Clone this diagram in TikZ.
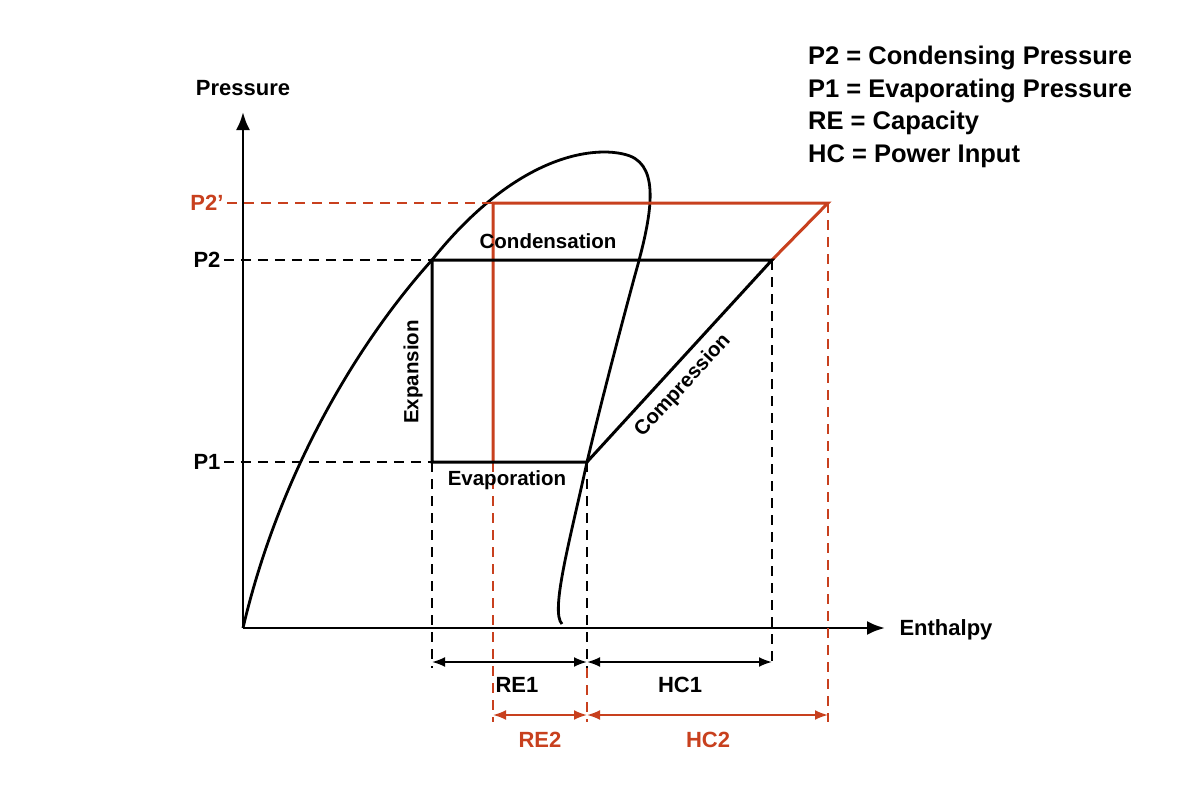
\documentclass[tikz,border=0pt]{standalone}
\usepackage{fontspec}
\setmainfont{Liberation Sans}
\usetikzlibrary{arrows.meta}
\definecolor{rd}{HTML}{C8401E}
\begin{document}
\begin{tikzpicture}[x=1pt,y=-1pt,
  lbl/.style={font=\fontsize{22}{26}\selectfont\bfseries},
  slbl/.style={font=\fontsize{20.5}{24}\selectfont\bfseries},
  cyc/.style={line width=3pt},
  dsh/.style={dashed,dash pattern=on 10pt off 7pt,line width=1.8pt},
  dim/.style={line width=2pt,{Latex[length=13pt,width=10pt]}-{Latex[length=13pt,width=10pt]}}]
\useasboundingbox (0,0) rectangle (1200,800);
% axes
\coordinate (O) at (243,628);
\coordinate (ytop) at (243,112);
\coordinate (xend) at (885,628);
\draw[line width=2.8pt,-{Latex[length=18pt,width=14pt]}] (O) -- (ytop);
\draw[line width=2.8pt,-{Latex[length=18pt,width=14pt]}] (O) -- (xend);
\node[lbl] (ylab) at (243,88) {Pressure};
\node[lbl,anchor=west] (xlab) at (896,630) {Enthalpy};
% points
\coordinate (A) at (432,260); \coordinate (B) at (772,260);
\coordinate (C) at (432,462); \coordinate (D) at (587,462);
\coordinate (E) at (493,203); \coordinate (F) at (828,203);
\coordinate (G) at (493,462);
% dome
\draw[line width=2.8pt] (O) .. controls (280,470) and (360,340) .. (A)
  .. controls (520,150) and (600,145) .. (630,156)
  .. controls (660,168) and (652,215) .. (635,275)
  .. controls (612,360) and (597,420) .. (D)
  .. controls (570,540) and (550,612) .. (562,624);
% dashed guides
\node[lbl,text=rd] (p2p) at (207,203) {P2’};
\node[lbl] (p2) at (207,260) {P2};
\node[lbl] (p1) at (207,462) {P1};
\draw[dsh,rd] (p2p.east) -- (F);
\draw[dsh] (p2.east) -- (A);
\draw[dsh] (p1.east) -- (C);
\coordinate (c1) at (432,668); \coordinate (d1) at (587,668); \coordinate (b1) at (772,668);
\coordinate (e1) at (493,722); \coordinate (f1) at (828,722); \coordinate (d2) at (587,722);
\draw[dsh] (C) -- (c1);
\draw[dsh] (D) -- (d1);
\draw[dsh] (B) -- (b1);
\draw[dsh,rd] (G) -- (e1);
\draw[dsh,rd] (F) -- (f1);
\draw[dsh,rd] (d1) -- (d2);
% cycles
\draw[cyc,rd] (G) -- (E) -- (F) -- (B);
\draw[cyc] (C) -- (A) -- (B) -- (D) -- cycle;
% labels
\node[slbl] (cond) at (548,241) {Condensation};
\node[slbl] (evap) at (507,480) {Evaporation};
\node[slbl,rotate=90] (exp) at (413,372) {Expansion};
\node[slbl,rotate=47.5] (comp) at (683,386) {Compression};
% dimensions
\coordinate (r1a) at (432,662); \coordinate (r1b) at (587,662); \coordinate (h1b) at (772,662);
\draw[dim] (r1a) -- (r1b);
\draw[dim] (r1b) -- (h1b);
\coordinate (r2a) at (493,715); \coordinate (r2b) at (587,715); \coordinate (h2b) at (828,715);
\draw[dim,rd] (r2a) -- (r2b);
\draw[dim,rd] (r2b) -- (h2b);
\node[lbl] (re1) at (517,685) {RE1};
\node[lbl] (hc1) at (680,685) {HC1};
\node[lbl,text=rd] (re2) at (540,740) {RE2};
\node[lbl,text=rd] (hc2) at (708,740) {HC2};
% legend
\node[font=\fontsize{25.5}{32.5}\selectfont\bfseries,anchor=north west,align=left,inner sep=0pt] (leg) at (808,46)
 {P2 = Condensing Pressure\\P1 = Evaporating Pressure\\RE = Capacity\\HC = Power Input};
\end{tikzpicture}
\end{document}
